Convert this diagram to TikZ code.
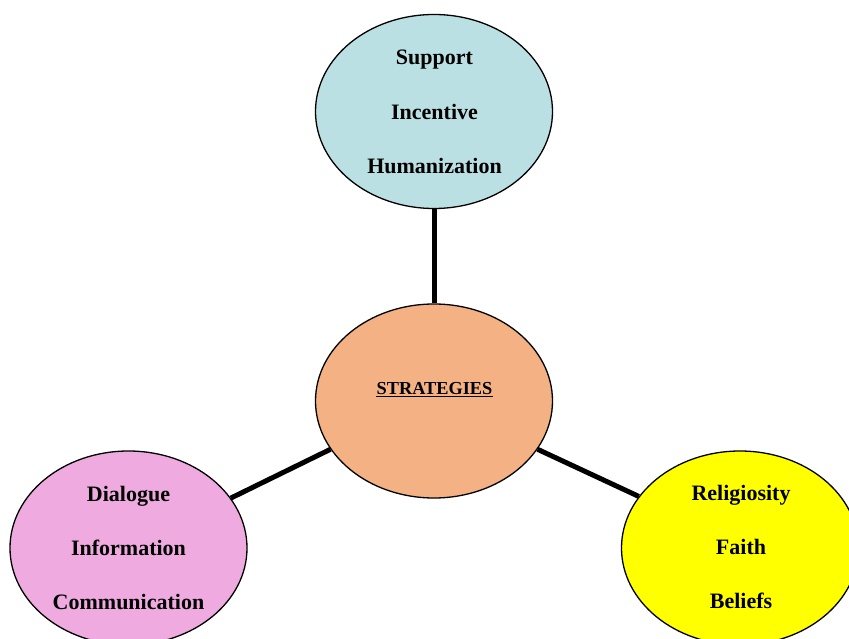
\documentclass[tikz,border=0pt]{standalone}
\usepackage{fontspec}
\setmainfont{Liberation Serif}
\usetikzlibrary{shapes.geometric}
\definecolor{cblue}{RGB}{187,224,227}
\definecolor{corange}{RGB}{244,177,131}
\definecolor{cpink}{RGB}{239,170,224}
\definecolor{cyellow}{RGB}{255,255,0}
\begin{document}
\begin{tikzpicture}[x=1pt,y=-1pt,
  bubble/.style={ellipse, draw=black, line width=1.3pt, minimum width=237pt, minimum height=194pt, inner sep=0pt},
  word/.style={anchor=base, font=\fontsize{22}{22}\selectfont\bfseries, inner sep=0pt},
  link/.style={line width=5pt}]
\clip (0,0) rectangle (849,639);
\fill[white] (0,0) rectangle (849,639);
\node[bubble, fill=cblue] (top) at (434,111.5) {};
\node[bubble, fill=corange] (center) at (434,401) {};
\node[bubble, fill=cpink] (left) at (128.5,548) {};
\node[bubble, fill=cyellow] (right) at (740,548) {};
\draw[link] (top.south) -- (center.north);
\draw[link] (left.26.7) -- (center.205.7);
\draw[link] (center.-25.4) -- (right.153.9);
\node[word] (t1) at (434.5,65) {Support};
\node[word] (t2) at (434.5,120) {Incentive};
\node[word] (t3) at (434.5,174) {Humanization};
\node[word] (l1) at (128.5,501) {Dialogue};
\node[word] (l2) at (128.5,555) {Information};
\node[word] (l3) at (128.5,609) {Communication};
\node[word] (r1) at (741,500) {Religiosity};
\node[word] (r2) at (741,554) {Faith};
\node[word] (r3) at (741,608) {Beliefs};
\node[anchor=base, inner sep=0pt, font=\fontsize{18.3}{18.3}\selectfont\bfseries] (strat) at (434.5,394) {STRATEGIES};
\draw[line width=1.2pt] ([yshift=-2.5pt]strat.base west) -- ([yshift=-2.5pt]strat.base east);
\end{tikzpicture}
\end{document}
